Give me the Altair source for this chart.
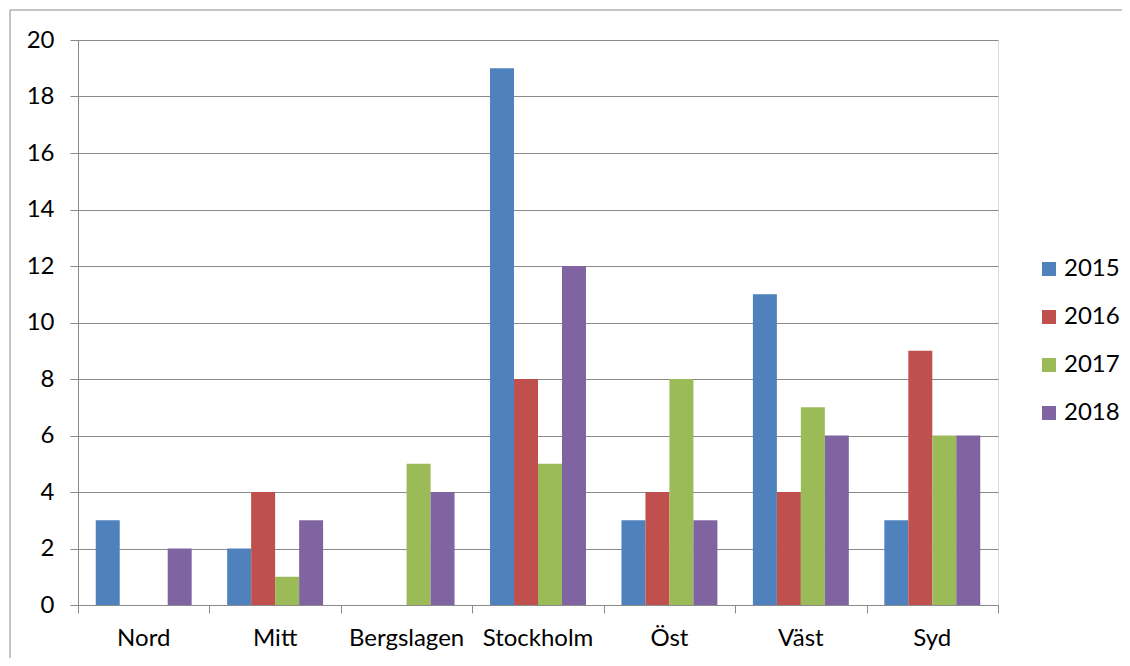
import altair as alt
import pandas as pd

regions = ["Nord", "Mitt", "Bergslagen", "Stockholm", "Öst", "Väst", "Syd"]
years = ["2015", "2016", "2017", "2018"]
v2015 = [3, 2, 0, 19, 3, 11, 3]
v2016 = [0, 4, 0, 8, 4, 4, 9]
v2017 = [0, 1, 5, 5, 8, 7, 6]
v2018 = [2, 3, 4, 12, 3, 6, 6]
colors = ["#4F81BD", "#C0504D", "#9BBB59", "#8064A2"]
boundaries = [0, 1, 2, 3, 4, 5, 6, 7]

rows = []
for yr, vals in zip(years, [v2015, v2016, v2017, v2018]):
    for r, v in zip(regions, vals):
        rows.append({"region": r, "year": yr, "value": v})
df = pd.DataFrame(rows)

FONT = "Lato"
FS = 24
GRID = "#8a8a8a"

bars = alt.Chart(df).mark_bar().encode(
    x=alt.X("region:N", sort=regions, title=None,
            scale=alt.Scale(paddingInner=0, paddingOuter=0),
            axis=alt.Axis(ticks=False, domain=True, domainColor=GRID, labelAngle=0,
                          labelFontSize=FS, labelFont=FONT, labelColor="black",
                          labelPadding=21)),
    xOffset=alt.XOffset("year:N", sort=years,
                        scale=alt.Scale(paddingInner=0, paddingOuter=0.74)),
    y=alt.Y("value:Q", title=None,
            scale=alt.Scale(domain=[0, 20], nice=False),
            axis=alt.Axis(values=list(range(0, 21, 2)), grid=True, gridColor=GRID,
                          domainColor=GRID, tickColor=GRID, tickSize=8,
                          labelFontSize=FS, labelFont=FONT, labelColor="black",
                          labelPadding=16)),
    color=alt.Color("year:N", sort=years, title=None,
                    scale=alt.Scale(domain=years, range=colors),
                    legend=alt.Legend(orient="none", legendX=959, legendY=217,
                                      symbolType="square", symbolSize=196,
                                      symbolStrokeWidth=0, labelFontSize=FS,
                                      labelFont=FONT, labelColor="black",
                                      labelOffset=3, rowPadding=24, padding=0)),
)

ticks = alt.Chart(pd.DataFrame({"b": boundaries})).mark_rule(opacity=0).encode(
    x=alt.X("b:Q", title=None, scale=alt.Scale(domain=[0, 7], nice=False),
            axis=alt.Axis(values=boundaries, labels=False, domain=False,
                          tickSize=8, tickColor=GRID, grid=False, orient="bottom")),
)

border = alt.Chart(pd.DataFrame({"k": [0]})).mark_rect(
    fill=None, stroke=GRID, strokeWidth=1
).encode(
    x=alt.value(-68), x2=alt.value(1300), y=alt.value(-30), y2=alt.value(800)
)

chart = alt.layer(bars, ticks, border).resolve_scale(x="independent").properties(
    width=920, height=565,
    autosize=alt.AutoSizeParams(type="none"),
    padding={"left": 70, "top": 32, "right": 124, "bottom": 53},
).configure_view(stroke=None).configure(background="white")

chart.save("out.html", embed_options={"renderer": "svg", "actions": False})
